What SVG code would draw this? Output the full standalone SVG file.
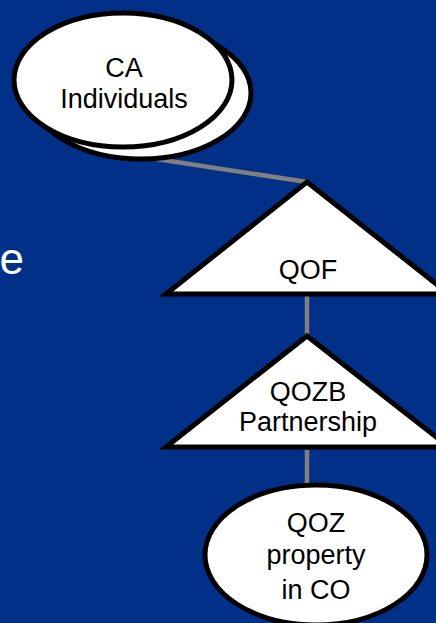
<svg xmlns="http://www.w3.org/2000/svg" width="436" height="623" viewBox="0 0 436 623">
  <style>
    .shape { fill: #ffffff; stroke: #000000; stroke-width: 5; stroke-linejoin: miter; }
    .link { stroke: #808080; stroke-width: 4.5; fill: none; }
    .label { font-family: "Liberation Sans", Arial, sans-serif; font-size: 27px; fill: #000000; text-anchor: middle; }
    .title { font-family: "Liberation Sans", Arial, sans-serif; font-size: 44px; fill: #ffffff; text-anchor: end; }
  </style>
  <rect width="436" height="623" fill="#003087"/>

  <!-- partial slide text at left edge -->
  <text class="title" x="24" y="274">e</text>

  <!-- connectors -->
  <g id="connectors">
    <line class="link" x1="150" y1="158" x2="307" y2="182"/>
    <line class="link" x1="307" y1="296" x2="307" y2="338"/>
    <line class="link" x1="307" y1="450" x2="307" y2="487"/>
  </g>

  <!-- stacked ellipse: several individual investors -->
  <g id="ca-individuals">
    <ellipse class="shape" cx="141" cy="93" rx="110" ry="66"/>
    <ellipse class="shape" cx="123" cy="80" rx="109" ry="67"/>
    <text class="label" x="124" y="77">CA</text>
    <text class="label" x="124" y="108">Individuals</text>
  </g>

  <g id="qof">
    <polygon class="shape" points="307,182 449,294 166,294"/>
    <text class="label" x="308" y="279">QOF</text>
  </g>

  <g id="qozb">
    <polygon class="shape" points="307,336 449,447 166,447"/>
    <text class="label" x="308" y="401">QOZB</text>
    <text class="label" x="308" y="431">Partnership</text>
  </g>

  <g id="qoz-property">
    <ellipse class="shape" cx="316" cy="555" rx="111" ry="70"/>
    <text class="label" x="316" y="532">QOZ</text>
    <text class="label" x="316" y="564">property</text>
    <text class="label" x="316" y="599">in CO</text>
  </g>
</svg>
